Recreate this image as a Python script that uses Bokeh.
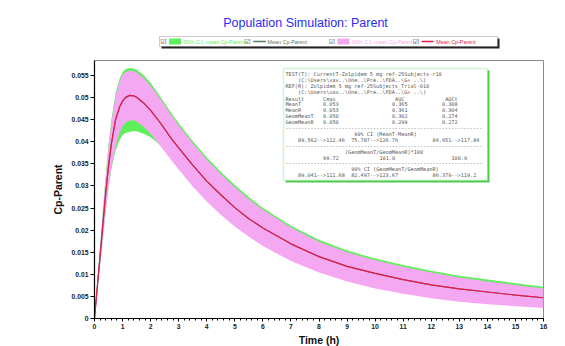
from bokeh.plotting import figure
from bokeh.layouts import column
from bokeh.models import (Label, BoxAnnotation, FixedTicker, PrintfTickFormatter,
                          Range1d, SingleIntervalTicker)
from bokeh.embed import file_html
from bokeh.resources import INLINE

# ---------------- data ----------------
time_h = [0, 0.1, 0.25, 0.4, 0.5, 0.6, 0.75, 0.9, 1.0, 1.1, 1.25, 1.4, 1.5, 1.75, 2.0,
          2.25, 2.5, 2.75, 3.0, 3.5, 4.0, 4.5, 5.0, 5.5, 6.0, 7.0, 8.0, 9.0, 10.0, 11.0,
          12.0, 13.0, 14.0, 15.0, 16.0]
mean_cp = [0, 0.0072, 0.0178, 0.0285, 0.0345, 0.0395, 0.0450, 0.0480, 0.0492, 0.0500,
           0.0505, 0.0504, 0.0501, 0.0488, 0.0471, 0.0451, 0.0429, 0.0406, 0.0386, 0.0347,
           0.0311, 0.0280, 0.0251, 0.0226, 0.0205, 0.0169, 0.0140, 0.0118, 0.0102, 0.0088,
           0.0076, 0.0067, 0.0060, 0.0053, 0.0047]
ci_green_hi = [0, 0.0085, 0.0205, 0.0326, 0.0394, 0.0449, 0.0511, 0.0544, 0.0557, 0.0564,
               0.0567, 0.0566, 0.0563, 0.0551, 0.0533, 0.0511, 0.0488, 0.0464, 0.0442, 0.0402,
               0.0365, 0.0332, 0.0302, 0.0275, 0.0250, 0.0210, 0.0178, 0.0154, 0.0136, 0.0121,
               0.0108, 0.0097, 0.0088, 0.0080, 0.0072]
ci_green_lo = [0, 0.0062, 0.0155, 0.0245, 0.0296, 0.0338, 0.0380, 0.0405, 0.0415, 0.0420,
               0.0423, 0.0424, 0.0424, 0.0418, 0.0410, 0.0398, 0.0380, 0.0360, 0.0340, 0.0303,
               0.0269, 0.0239, 0.0212, 0.0189, 0.0169, 0.0135, 0.0109, 0.0089, 0.0073, 0.0061,
               0.0051, 0.0043, 0.0037, 0.0032, 0.0028]
ci_pink_hi = [0, 0.0082, 0.0200, 0.0320, 0.0388, 0.0443, 0.0505, 0.0538, 0.0551, 0.0558,
              0.0561, 0.0560, 0.0557, 0.0545, 0.0527, 0.0506, 0.0483, 0.0459, 0.0437, 0.0397,
              0.0360, 0.0327, 0.0297, 0.0270, 0.0246, 0.0206, 0.0174, 0.0150, 0.0132, 0.0117,
              0.0104, 0.0093, 0.0084, 0.0076, 0.0068]
ci_pink_lo = [0, 0.0060, 0.0150, 0.0242, 0.0295, 0.0340, 0.0390, 0.0422, 0.0435, 0.0443,
              0.0448, 0.0448, 0.0446, 0.0434, 0.0418, 0.0399, 0.0378, 0.0357, 0.0337, 0.0299,
              0.0265, 0.0235, 0.0208, 0.0185, 0.0164, 0.0130, 0.0104, 0.0084, 0.0068, 0.0056,
              0.0046, 0.0038, 0.0032, 0.0028, 0.0024]

y_ticks = [0, 0.005, 0.01, 0.015, 0.02, 0.025, 0.03, 0.035, 0.04, 0.045, 0.05, 0.055]
title_text = "Population Simulation: Parent"
x_label = "Time (h)"
y_label = "Cp-Parent"
legend_labels = ["90% C.I. mean Cp-Parent", "Mean Cp-Parent",
                 "90% C.I. mean Cp-Parent", "Mean Cp-Parent"]

stats_rows = [
    [(0, "TEST(T): CurrentT-Zolpidem 5 mg ref-25Subjects-r10")],
    [(4, "(C:\\Users\\xav..\\One..\\Pre..\\FDA..\\G+ ..\\)")],
    [(0, "REF(R): Zolpidem 5 mg ref-25Subjects_Trial-010")],
    [(4, "(C:\\Users\\xav..\\One..\\Pre..\\FDA..\\G+ ..\\)")],
    [(0, "Result"), (12, "Cmax"), (35, "AUC"), (51, "AUCt")],
    [(0, "MeanT"), (12, "0.053"), (34, "0.365"), (50, "0.308")],
    [(0, "MeanR"), (12, "0.053"), (34, "0.361"), (50, "0.304")],
    [(0, "GeomMeanT"), (12, "0.050"), (34, "0.302"), (50, "0.274")],
    [(0, "GeomMeanR"), (12, "0.050"), (34, "0.299"), (50, "0.272")],
    [(0, "-" * 63)],
    [(22, "90% CI (MeanT-MeanR)")],
    [(4, "89.562-->112.46"), (21, "75.787-->126.76"), (47, "84.651-->117.84")],
    [(0, "-" * 63)],
    [(19, "(GeomMeanT/GeomMeanR)*100")],
    [(12, "99.72"), (30, "101.0"), (53, "100.9")],
    [(0, "-" * 63)],
    [(21, "90% CI (GeomMeanT/GeomMeanR)")],
    [(4, "89.041-->111.68"), (21, "82.497-->123.67"), (47, "86.379-->119.2")],
]

# ---------------- colours ----------------
GREEN = "#5ef05a"
PINK = "#f5a8f2"
RED = "#e8184c"
DARK = "#5a7a6a"

SCR = dict(left_units="screen", right_units="screen", top_units="screen",
           bottom_units="screen", fill_alpha=1)

BORDER_L = 94
BORDER_R = 19
FRAME_W = 449

# ---------------- header strip (title + legend) ----------------
head = figure(frame_width=FRAME_W, frame_height=58,
              x_range=Range1d(0, FRAME_W), y_range=Range1d(0, 58),
              output_backend="svg", toolbar_location=None,
              min_border_left=BORDER_L, min_border_right=BORDER_R,
              min_border_top=0, min_border_bottom=0,
              x_axis_location=None, y_axis_location=None)
head.outline_line_color = None
head.background_fill_color = "white"
head.border_fill_color = "white"
head.grid.visible = False

head.add_layout(Label(x=211, y=36, x_units="screen", y_units="screen", text=title_text,
                      text_align="center", text_baseline="middle",
                      text_font="Liberation Sans", text_font_size="12.5px",
                      text_color="#2b2bf5"))
head.add_layout(BoxAnnotation(left=67, right=405, top=20, bottom=10,
                              fill_color="#222222", line_color=None, **SCR))
head.add_layout(BoxAnnotation(left=65, right=403, top=22, bottom=12,
                              fill_color="white", line_color="#555555", line_width=1,
                              **SCR))
head.add_layout(BoxAnnotation(left=74.6, right=86.5, top=20, bottom=14,
                              fill_color=GREEN, line_color=None, **SCR))
head.add_layout(BoxAnnotation(left=158.7, right=171.3, top=17.7, bottom=16.3,
                              fill_color=DARK, line_color=None, **SCR))
head.add_layout(BoxAnnotation(left=243, right=255, top=20, bottom=14,
                              fill_color=PINK, line_color=None, **SCR))
head.add_layout(BoxAnnotation(left=327, right=339, top=17.7, bottom=16.3,
                              fill_color=RED, line_color=None, **SCR))
for cx in (69, 153, 237.5, 321.3):
    head.add_layout(Label(x=cx, y=17, x_units="screen", y_units="screen", text="\u2611",
                          text_align="center", text_baseline="middle",
                          text_font="DejaVu Sans", text_font_size="7px",
                          text_color="#333333"))
for lx, lab, col in zip((89, 173, 257.6, 341.7), legend_labels,
                        (GREEN, DARK, PINK, RED)):
    head.add_layout(Label(x=lx, y=17, x_units="screen", y_units="screen", text=lab,
                          text_align="left", text_baseline="middle",
                          text_font="Liberation Sans", text_font_size="5.4px",
                          text_color=col))

# ---------------- main plot ----------------
p = figure(frame_width=FRAME_W, frame_height=258,
           x_range=Range1d(0, 16), y_range=Range1d(0, 0.0584),
           output_backend="svg", toolbar_location=None,
           min_border_left=BORDER_L, min_border_right=BORDER_R, min_border_top=2,
           min_border_bottom=0)
p.background_fill_color = "white"
p.border_fill_color = "white"
p.outline_line_color = "#8a8a8a"
p.xgrid.visible = False
p.ygrid.visible = False

p.varea(x=time_h, y1=ci_green_lo, y2=ci_green_hi, fill_color=GREEN)
p.varea(x=time_h, y1=ci_pink_lo, y2=ci_pink_hi, fill_color=PINK)
p.line(time_h, mean_cp, line_color=DARK, line_width=1.2)
p.line(time_h, mean_cp, line_color=RED, line_width=1.2)

p.xaxis.ticker = SingleIntervalTicker(interval=1, num_minor_ticks=5)
p.yaxis.ticker = FixedTicker(ticks=y_ticks, minor_ticks=[])
p.yaxis.formatter = PrintfTickFormatter(format="%g")
for ax in (p.xaxis, p.yaxis):
    ax.axis_line_color = "black"
    ax.axis_line_width = 1.2
    ax.major_tick_line_color = "black"
    ax.minor_tick_line_color = "black"
    ax.major_tick_in = 0
    ax.minor_tick_in = 0
    ax.major_label_text_font = "Liberation Sans"
    ax.major_label_text_font_style = "bold"
    ax.major_label_text_font_size = "6.8px"
    ax.major_label_text_color = "#222222"
    ax.axis_label_text_font = "Liberation Sans"
    ax.axis_label_text_font_style = "bold"
    ax.axis_label_text_font_size = "10.5px"
    ax.axis_label_text_color = "#111111"
p.xaxis.major_tick_out = 3
p.xaxis.minor_tick_out = 2
p.yaxis.major_tick_out = 4
p.xaxis.major_label_standoff = 2
p.yaxis.major_label_standoff = 2
p.xaxis.axis_label_standoff = 2
p.yaxis.axis_label_standoff = 4
p.xaxis.axis_label = x_label
p.yaxis.axis_label = y_label

# statistics box (frame-relative screen units)
p.add_layout(BoxAnnotation(left=191, right=395, top=248, bottom=136,
                           fill_color="#4fc94f", line_color=None, **SCR))
p.add_layout(BoxAnnotation(left=189, right=393, top=250, bottom=138,
                           fill_color="white", line_color="#66e066", line_width=1.5,
                           **SCR))
char_w = 3.13
row_y = [245, 239, 233, 227]
for k in range(14):
    row_y.append(220 - 5.9 * k)
for yy, segs in zip(row_y, stats_rows):
    for col, txt in segs:
        p.add_layout(Label(x=191 + col * char_w, y=yy, x_units="screen", y_units="screen",
                           text=txt, text_align="left", text_baseline="middle",
                           text_font="DejaVu Sans Mono", text_font_size="5.2px",
                           text_color="#555555"))

layout = column(head, p, spacing=0)
open("out.html", "w").write(file_html(layout, INLINE))
